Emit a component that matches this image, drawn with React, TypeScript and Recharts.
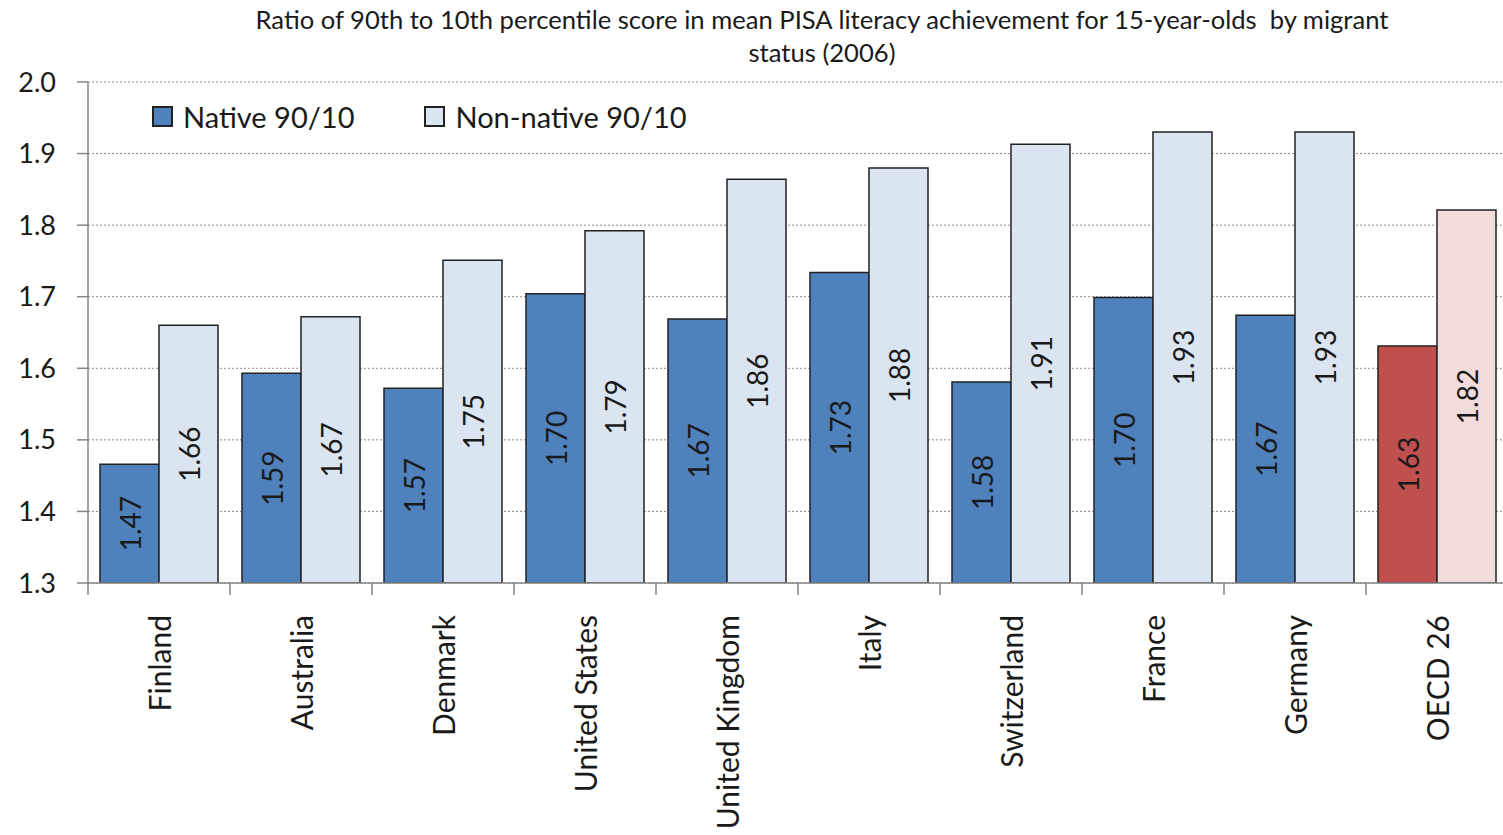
import React from 'react';
import { BarChart, Bar, XAxis, YAxis, CartesianGrid, LabelList, Cell } from 'recharts';

const countries = ['Finland', 'Australia', 'Denmark', 'United States', 'United Kingdom', 'Italy', 'Switzerland', 'France', 'Germany', 'OECD 26'];
const nativeValues = [1.466, 1.593, 1.572, 1.704, 1.669, 1.734, 1.581, 1.699, 1.674, 1.631];
const nonNativeValues = [1.66, 1.672, 1.751, 1.792, 1.864, 1.88, 1.913, 1.93, 1.93, 1.821];
const yTicks = [1.3, 1.4, 1.5, 1.6, 1.7, 1.8, 1.9, 2.0];
const legendItems = ['Native 90/10', 'Non-native 90/10'];

const CHART_W = 1510;
const CHART_H = 835;
const MARGIN = { top: 82, right: 2, left: 0, bottom: 0 };
const Y_AXIS_W = 88;
const FONT = 'Lato, "Open Sans", sans-serif';

const NATIVE = '#4F81BD';
const NON_NATIVE = '#DBE5F1';
const OECD_NATIVE = '#C0504D';
const OECD_NON_NATIVE = '#F2DCDB';
const BORDER = '#222222';
const AXIS = '#868686';

const data = countries.map((c, i) => ({ country: c, native: nativeValues[i], nonNative: nonNativeValues[i] }));

const halfBand = (CHART_W - MARGIN.left - MARGIN.right - Y_AXIS_W) / countries.length / 2;

const CountryTick = (props: any) => {
    const { x, y, payload } = props;
    const bx = x - halfBand;
    return (
        <g>
            <line x1={bx} y1={y} x2={bx} y2={y + 12} stroke={AXIS} strokeWidth={1.5} />
            <text
                x={0}
                y={0}
                transform={`translate(${x}, ${y + 32}) rotate(-90)`}
                textAnchor="end"
                dominantBaseline="central"
                fill="#1a1a1a"
                fontSize={30}
                fontFamily={FONT}
            >
                {payload.value}
            </text>
        </g>
    );
};

const ValueLabel = (props: any) => {
    const { x, y, width, height, value } = props;
    const cx = x + width / 2;
    const cy = y + height / 2;
    return (
        <text
            x={0}
            y={0}
            transform={`translate(${cx}, ${cy}) rotate(-90)`}
            textAnchor="middle"
            dominantBaseline="central"
            fill="#1a1a1a"
            fontSize={28}
            fontFamily={FONT}
        >
            {Number(value).toFixed(2)}
        </text>
    );
};

const LegendBox = () => {
    const colors = [NATIVE, NON_NATIVE];
    return (
        <div style={{ position: 'absolute', left: 152, top: 99, display: 'flex', alignItems: 'center', fontFamily: FONT, fontSize: 29, color: '#1a1a1a' }}>
            {legendItems.map((name, i) => (
                <div key={name} style={{ display: 'flex', alignItems: 'center', marginRight: i === 0 ? 70 : 0 }}>
                    <span style={{ width: 17, height: 17, background: colors[i], border: `2px solid ${BORDER}`, marginRight: 10, display: 'inline-block' }} />
                    <span>{name}</span>
                </div>
            ))}
        </div>
    );
};

export default function App() {
    return (
        <div style={{ position: 'absolute', left: 0, top: 0, width: 1503, height: 835, overflow: 'hidden', background: '#fff' }}>
            <div
                style={{
                    position: 'absolute',
                    left: 122,
                    width: 1400,
                    top: 3,
                    textAlign: 'center',
                    fontFamily: FONT,
                    fontSize: 25.6,
                    lineHeight: '33px',
                    color: '#1a1a1a',
                }}
            >
                Ratio of 90th to 10th percentile score in mean PISA literacy achievement for 15-year-olds&nbsp; by migrant
                <br />
                status (2006)
            </div>
            <BarChart width={CHART_W} height={CHART_H} data={data} margin={MARGIN} barCategoryGap={12} barGap={0}>
                <CartesianGrid vertical={false} stroke="#8c8c8c" strokeDasharray="2 2" />
                <XAxis
                    dataKey="country"
                    height={CHART_H - 583}
                    interval={0}
                    tickLine={false}
                    tickSize={0}
                    tickMargin={0}
                    tick={<CountryTick />}
                    axisLine={{ stroke: AXIS, strokeWidth: 1.5 }}
                />
                <YAxis
                    width={Y_AXIS_W}
                    domain={[1.3, 2.0]}
                    ticks={yTicks}
                    tickFormatter={(v: number) => v.toFixed(1)}
                    tickSize={11}
                    tickMargin={21}
                    tickLine={{ stroke: AXIS, strokeWidth: 1.5 }}
                    axisLine={{ stroke: AXIS, strokeWidth: 1.5 }}
                    tick={{ fill: '#1a1a1a', fontSize: 27, fontFamily: FONT }}
                    allowDataOverflow
                />
                <Bar dataKey="native" name="Native 90/10" fill={NATIVE} stroke={BORDER} strokeWidth={1.5} isAnimationActive={false}>
                    {data.map((d, i) => (
                        <Cell key={d.country} fill={i === data.length - 1 ? OECD_NATIVE : NATIVE} />
                    ))}
                    <LabelList dataKey="native" content={<ValueLabel />} />
                </Bar>
                <Bar dataKey="nonNative" name="Non-native 90/10" fill={NON_NATIVE} stroke={BORDER} strokeWidth={1.5} isAnimationActive={false}>
                    {data.map((d, i) => (
                        <Cell key={d.country} fill={i === data.length - 1 ? OECD_NON_NATIVE : NON_NATIVE} />
                    ))}
                    <LabelList dataKey="nonNative" content={<ValueLabel />} />
                </Bar>
            </BarChart>
            <LegendBox />
        </div>
    );
}
